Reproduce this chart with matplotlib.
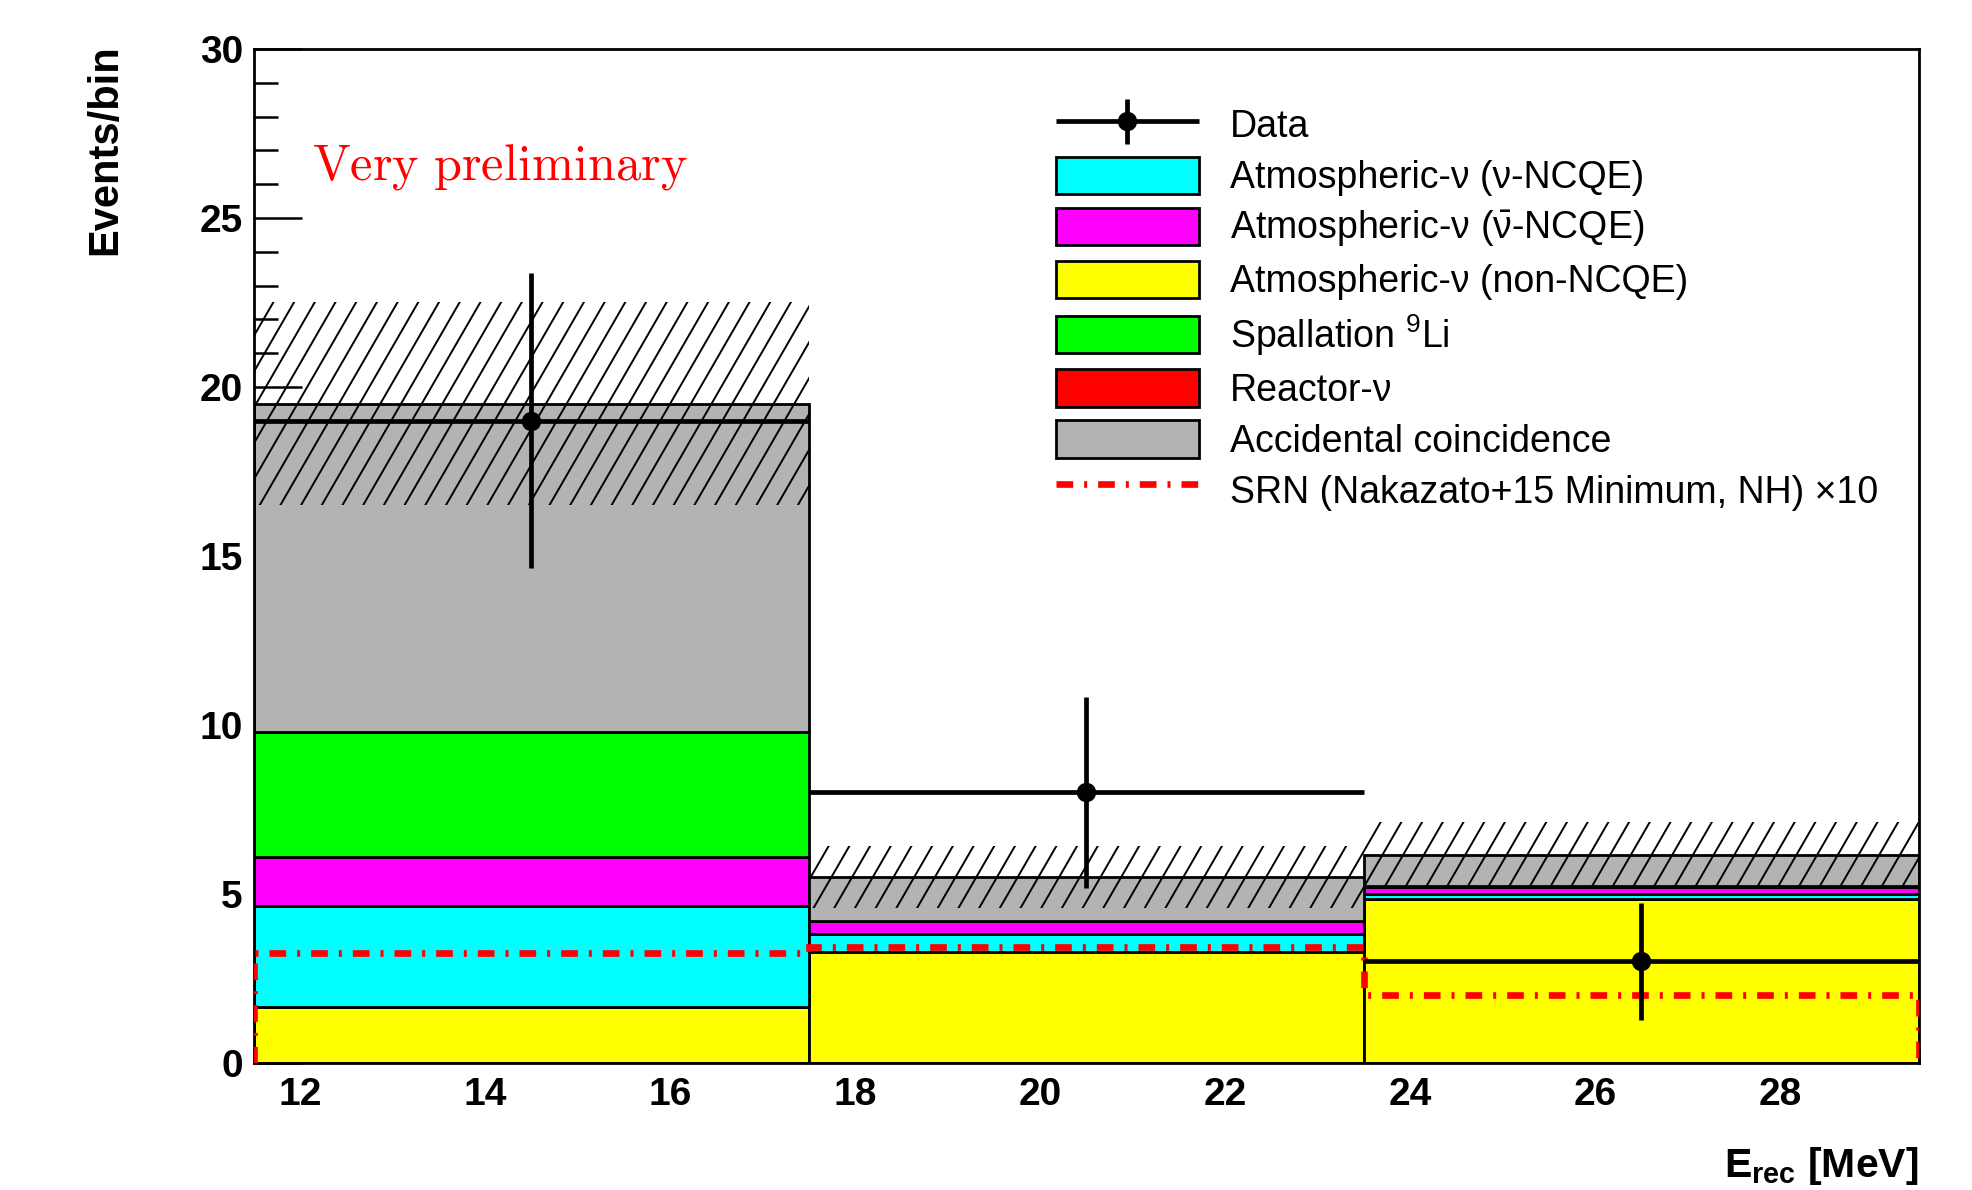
import matplotlib
matplotlib.use('Agg')
import matplotlib.pyplot as plt
import numpy as np
from matplotlib.ticker import MultipleLocator
from matplotlib.legend_handler import HandlerErrorbar
from matplotlib.collections import LineCollection

plt.rcParams['font.family'] = ['Liberation Sans', 'DejaVu Sans']
plt.rcParams['mathtext.fontset'] = 'custom'
plt.rcParams['mathtext.rm'] = 'Liberation Sans'
plt.rcParams['mathtext.bf'] = 'Liberation Sans:bold'
plt.rcParams['mathtext.it'] = 'Liberation Sans:italic'
plt.rcParams['mathtext.default'] = 'regular'

# binning (MeV)
bin_edges = [11.5, 17.5, 23.5, 29.5]
bin_centers = [14.5, 20.5, 26.5]

# background stack, bottom to top (events/bin)
atm_non_ncqe = [1.64, 3.29, 4.85]
atm_nu_ncqe = [3.01, 0.52, 0.13]
atm_nubar_ncqe = [1.45, 0.37, 0.23]
spall_li9 = [3.69, 0.02, 0.02]
reactor_nu = [0.0, 0.0, 0.0]
accidental = [9.71, 1.29, 0.92]
syst_err = [3.0, 0.92, 0.98]

# observed data
data_counts = [19, 8, 3]
data_err = [4.36, 2.83, 1.73]

# signal prediction (x10)
srn_x10 = [3.24, 3.42, 2.01]

fig = plt.figure(figsize=(19.72, 11.9), dpi=100)
ax = fig.add_axes([0.1288, 0.107, 0.9731 - 0.1288, 0.9588 - 0.107])

width = bin_edges[1] - bin_edges[0]
stack = [
    (atm_non_ncqe, '#ffff00', 'Atmospheric-ν (non-NCQE)'),
    (atm_nu_ncqe, '#00ffff', 'Atmospheric-ν (ν-NCQE)'),
    (atm_nubar_ncqe, '#ff00ff', r'Atmospheric-ν ($\bar{ν}$-NCQE)'),
    (spall_li9, '#00ff00', r'Spallation $^{9}$Li'),
    (reactor_nu, '#ff0000', 'Reactor-ν'),
    (accidental, '#b3b3b3', 'Accidental coincidence'),
]
handles = {}
bottom = np.zeros(len(bin_centers))
for vals, col, lab in stack:
    bars = ax.bar(bin_centers, vals, width=width, bottom=bottom, color=col,
                  edgecolor='black', linewidth=2.0, label=lab, zorder=2)
    handles[lab] = bars
    bottom = bottom + np.array(vals)

# systematic band, ROOT-style 3004 hatch (steep diagonal lines)
total = bottom
err = np.array(syst_err)
band = ax.bar(bin_centers, 2 * err, width=width, bottom=total - err,
              fill=False, linewidth=0, zorder=3)
ax_w, ax_h = 1665.0, 1014.0          # axes size in pixels
step = 20.7 / ax_w                   # horizontal spacing of hatch lines
run = ax_h / np.tan(np.radians(60)) / ax_w
starts = np.arange(-run - step, 1 + step, step)
segs = [[(x0, 0), (x0 + run, 1)] for x0 in starts]
for rect in band:
    lc = LineCollection(segs, colors='black', linewidths=1.4,
                        transform=ax.transAxes, zorder=3)
    ax.add_collection(lc)
    lc.set_clip_path(rect)

srn = ax.stairs(srn_x10, bin_edges, baseline=0, color='red', linewidth=4.8,
                linestyle=(0, (2.5, 1.65, 0.45, 1.65)), zorder=4,
                label=r'SRN (Nakazato+15 Minimum, NH) ×10')

dat = ax.errorbar(bin_centers, data_counts, yerr=data_err, xerr=width / 2,
                  fmt='o', color='black', markersize=13, elinewidth=3.4,
                  capsize=0, zorder=5, label='Data')

ax.set_xlim(11.5, 29.5)
ax.set_ylim(0, 30)
ax.xaxis.set_major_locator(MultipleLocator(2))
ax.xaxis.set_minor_locator(MultipleLocator(0.5))
ax.yaxis.set_major_locator(MultipleLocator(5))
ax.yaxis.set_minor_locator(MultipleLocator(1))
ax.tick_params(axis='both', which='both', direction='in', width=1.8,
               top=False, right=False)
ax.tick_params(axis='x', which='major', length=22.5, pad=10)
ax.tick_params(axis='x', which='minor', length=11)
ax.tick_params(axis='y', which='major', length=34.5, pad=8)
ax.tick_params(axis='y', which='minor', length=17)
for lbl in ax.get_xticklabels() + ax.get_yticklabels():
    lbl.set_fontsize(28)
    lbl.set_fontweight('bold')
for sp in ax.spines.values():
    sp.set_linewidth(2.0)

ax.set_ylabel('Events/bin', fontsize=30, fontweight='bold')
ax.yaxis.set_label_coords(-0.0772, 1.005)
ax.yaxis.label.set_horizontalalignment('right')
ax.set_xlabel(r'E$_{\mathbf{rec}}$ [MeV]', fontsize=29.5, fontweight='bold')
ax.xaxis.set_label_coords(1.0, -0.081)
ax.xaxis.label.set_horizontalalignment('right')

ax.text(0.0348, 0.871, r'$\mathrm{Very\ preliminary}$', transform=ax.transAxes,
        color='red', fontsize=36.3, math_fontfamily='cm', ha='left', va='baseline')

order = ['Data', 'Atmospheric-ν (ν-NCQE)', r'Atmospheric-ν ($\bar{ν}$-NCQE)',
         'Atmospheric-ν (non-NCQE)', r'Spallation $^{9}$Li', 'Reactor-ν',
         'Accidental coincidence']
hl = [dat] + [handles[k] for k in order[1:]] + [srn]
ll = order + [r'SRN (Nakazato+15 Minimum, NH) ×10']
ax.legend(hl, ll, loc='upper left', bbox_to_anchor=(0.4817, 0.944),
          frameon=False, fontsize=27, handlelength=3.8, handleheight=1.15,
          labelspacing=0.313, handletextpad=0.83, borderpad=0, borderaxespad=0,
          handler_map={type(dat): HandlerErrorbar(xerr_size=1.9, yerr_size=0.6)})

fig.savefig('out.png', dpi=100)
